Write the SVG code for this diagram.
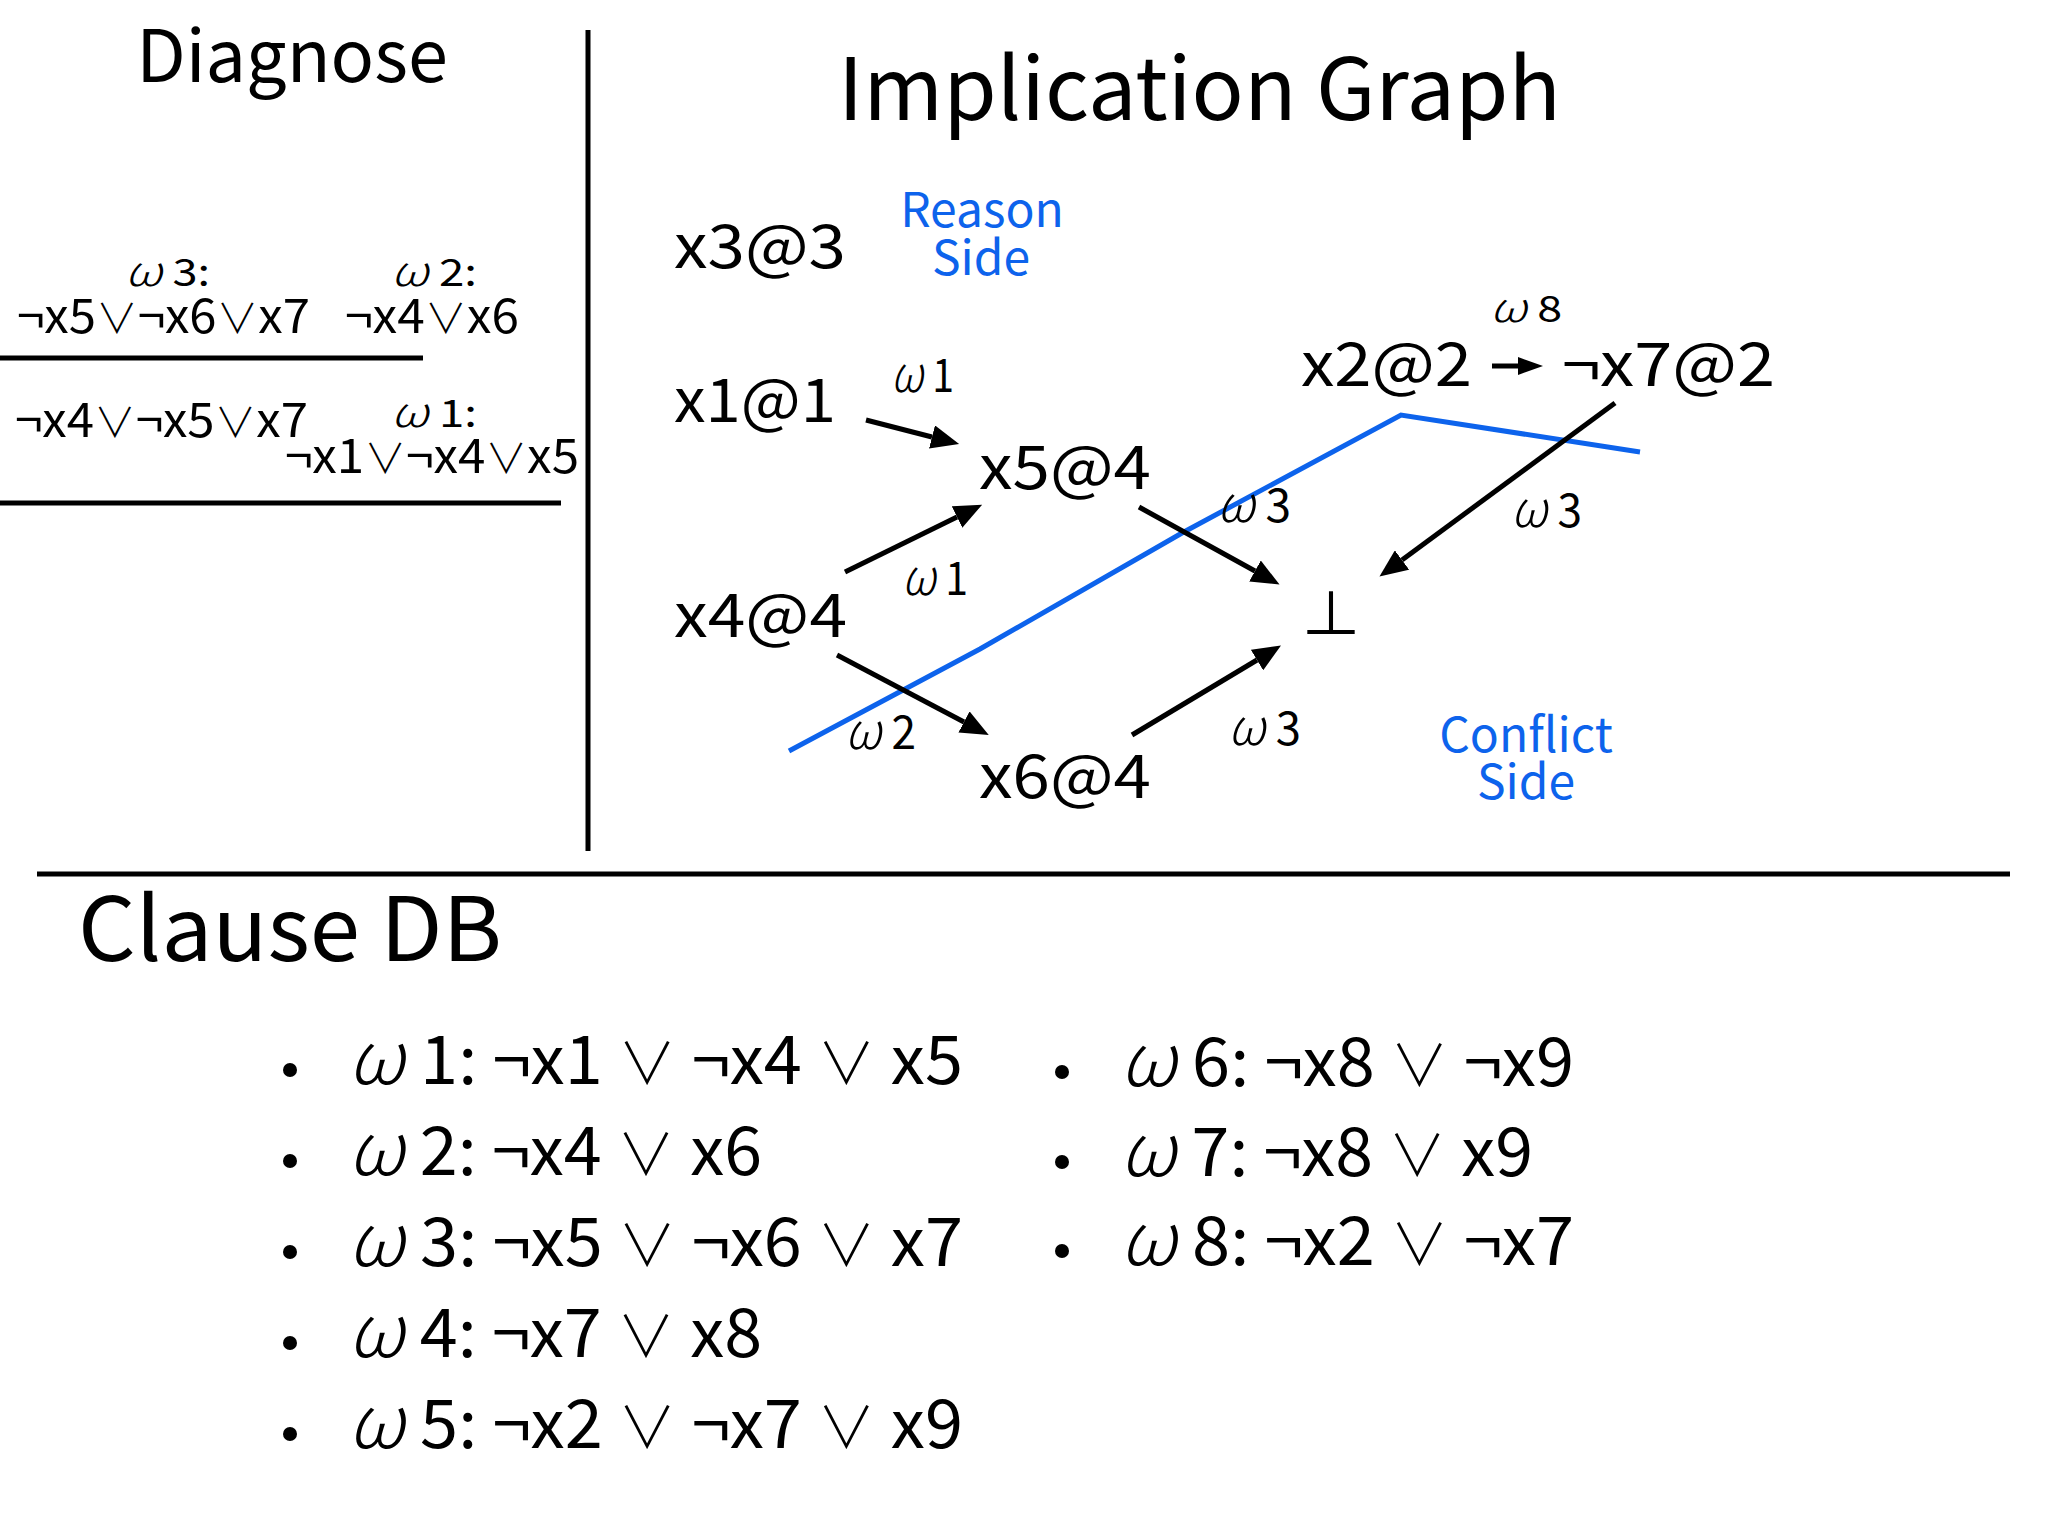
<svg xmlns="http://www.w3.org/2000/svg" width="2048" height="1536" viewBox="0 0 2048 1536">
<defs>
<style>
text{font-family:"Noto Sans CJK JP","Liberation Sans",sans-serif;fill:#000}
.title{font-size:72px}
.big{font-size:88px}
.cl{font-size:48px}
.wl{font-size:38px}
.node{font-size:60px}
.wg{font-size:46px}
.w8{font-size:37px}
.blue{font-size:48px;fill:#0d63ec}
.li{font-size:67px}
.om{font-style:italic;font-weight:300;font-size:1.1em}
.or{font-family:"DejaVu Sans","Noto Sans CJK JP",sans-serif;font-weight:200;font-size:0.85em}
.rule{stroke:#000;stroke-width:5;fill:none}
.edge{stroke:#000;stroke-width:5;fill:none}
</style>
<marker id="ah" viewBox="0 0 28 24" refX="0" refY="12" markerWidth="28" markerHeight="24" markerUnits="userSpaceOnUse" orient="auto">
<path d="M0,0 L28,12 L0,24 z" fill="#000"/>
</marker>
<marker id="ahs" viewBox="0 0 25 18" refX="0" refY="9" markerWidth="25" markerHeight="18" markerUnits="userSpaceOnUse" orient="auto">
<path d="M0,0 L25,9 L0,18 z" fill="#000"/>
</marker>
</defs>
<rect width="2048" height="1536" fill="#fff"/>

<g id="frame">
<line class="rule" x1="588" y1="30" x2="588" y2="851"/>
<line class="rule" x1="37" y1="874" x2="2010" y2="874" stroke-width="6"/>
</g>

<g id="diagnose">
<text class="title" x="292" y="82" text-anchor="middle">Diagnose</text>
<text class="wl" x="125" y="286" textLength="85" lengthAdjust="spacingAndGlyphs"><tspan class="om">ω</tspan> 3:</text>
<text class="wl" x="391" y="286" textLength="86" lengthAdjust="spacingAndGlyphs"><tspan class="om">ω</tspan> 2:</text>
<text class="cl" x="17" y="333" textLength="293" lengthAdjust="spacingAndGlyphs">¬x5<tspan class="or">∨</tspan>¬x6<tspan class="or">∨</tspan>x7</text>
<text class="cl" x="345" y="333" textLength="174" lengthAdjust="spacingAndGlyphs">¬x4<tspan class="or">∨</tspan>x6</text>
<line class="rule" x1="0" y1="358" x2="423" y2="358"/>
<text class="cl" x="15" y="437" textLength="293" lengthAdjust="spacingAndGlyphs">¬x4<tspan class="or">∨</tspan>¬x5<tspan class="or">∨</tspan>x7</text>
<text class="wl" x="391" y="427" textLength="86" lengthAdjust="spacingAndGlyphs"><tspan class="om">ω</tspan> 1:</text>
<text class="cl" x="285" y="473" textLength="294" lengthAdjust="spacingAndGlyphs">¬x1<tspan class="or">∨</tspan>¬x4<tspan class="or">∨</tspan>x5</text>
<line class="rule" x1="0" y1="503" x2="561" y2="503"/>
</g>

<g id="graph-title">
<text x="838" y="120" font-size="86" textLength="723" lengthAdjust="spacingAndGlyphs">Implication Graph</text>
</g>

<g id="reason-side">
<text class="blue" x="982" y="227" text-anchor="middle">Reason</text>
<text class="blue" x="981" y="275" text-anchor="middle">Side</text>
</g>
<g id="conflict-side">
<text class="blue" x="1526" y="752" text-anchor="middle">Conflict</text>
<text class="blue" x="1526" y="799" text-anchor="middle">Side</text>
</g>

<g id="n-x3"><text class="node" x="674" y="268" textLength="172" lengthAdjust="spacingAndGlyphs">x3@3</text></g>
<g id="n-x1"><text class="node" x="674" y="422" textLength="162" lengthAdjust="spacingAndGlyphs">x1@1</text></g>
<g id="n-x5"><text class="node" x="979" y="489" textLength="172" lengthAdjust="spacingAndGlyphs">x5@4</text></g>
<g id="n-x4"><text class="node" x="674" y="637" textLength="173" lengthAdjust="spacingAndGlyphs">x4@4</text></g>
<g id="n-x6"><text class="node" x="979" y="798" textLength="172" lengthAdjust="spacingAndGlyphs">x6@4</text></g>
<g id="n-bot"><text class="node" x="1331" y="636" text-anchor="middle">⊥</text></g>
<g id="n-x2"><text class="node" x="1301" y="386" textLength="171" lengthAdjust="spacingAndGlyphs">x2@2</text></g>
<g id="n-nx7"><text class="node" x="1562" y="386" textLength="213" lengthAdjust="spacingAndGlyphs">¬x7@2</text></g>

<g id="cut">
<polyline points="789,751 980,649 1182,533 1401,415 1640,452" fill="none" stroke="#0d63ec" stroke-width="5"/>
</g>

<g id="connectors">
<line class="edge" x1="866" y1="420" x2="932" y2="437" marker-end="url(#ah)"/>
<line class="edge" x1="845" y1="572" x2="957" y2="517" marker-end="url(#ah)"/>
<line class="edge" x1="1139" y1="507" x2="1255" y2="571" marker-end="url(#ah)"/>
<line class="edge" x1="837" y1="655" x2="964" y2="722" marker-end="url(#ah)"/>
<line class="edge" x1="1132" y1="735" x2="1257" y2="660" marker-end="url(#ah)"/>
<line class="edge" x1="1615" y1="403" x2="1402" y2="560" marker-end="url(#ah)"/>
<line class="edge" x1="1492" y1="366" x2="1518" y2="366" stroke-width="4" marker-end="url(#ahs)"/>
</g>

<g id="edge-labels">
<text class="wg" x="891" y="392" textLength="63" lengthAdjust="spacingAndGlyphs"><tspan class="om">ω</tspan> 1</text>
<text class="wg" x="902" y="595" textLength="66" lengthAdjust="spacingAndGlyphs"><tspan class="om">ω</tspan> 1</text>
<text class="wg" x="1217" y="522" textLength="74" lengthAdjust="spacingAndGlyphs"><tspan class="om">ω</tspan> 3</text>
<text class="wg" x="845" y="749" textLength="71" lengthAdjust="spacingAndGlyphs"><tspan class="om">ω</tspan> 2</text>
<text class="wg" x="1228" y="745" textLength="73" lengthAdjust="spacingAndGlyphs"><tspan class="om">ω</tspan> 3</text>
<text class="wg" x="1511" y="527" textLength="71" lengthAdjust="spacingAndGlyphs"><tspan class="om">ω</tspan> 3</text>
<text class="w8" x="1490" y="322" textLength="72" lengthAdjust="spacingAndGlyphs"><tspan class="om">ω</tspan> 8</text>
</g>

<g id="clause-db">
<text class="big" x="78" y="961" textLength="424" lengthAdjust="spacingAndGlyphs">Clause DB</text>
<g id="list-left">
<circle cx="290" cy="1070" r="7"/>
<text class="li" x="348" y="1084" textLength="615" lengthAdjust="spacingAndGlyphs"><tspan class="om">ω</tspan> 1: ¬x1 <tspan class="or">∨</tspan> ¬x4 <tspan class="or">∨</tspan> x5</text>
<circle cx="290" cy="1161" r="7"/>
<text class="li" x="348" y="1175" textLength="414" lengthAdjust="spacingAndGlyphs"><tspan class="om">ω</tspan> 2: ¬x4 <tspan class="or">∨</tspan> x6</text>
<circle cx="290" cy="1252" r="7"/>
<text class="li" x="348" y="1266" textLength="615" lengthAdjust="spacingAndGlyphs"><tspan class="om">ω</tspan> 3: ¬x5 <tspan class="or">∨</tspan> ¬x6 <tspan class="or">∨</tspan> x7</text>
<circle cx="290" cy="1343" r="7"/>
<text class="li" x="348" y="1357" textLength="414" lengthAdjust="spacingAndGlyphs"><tspan class="om">ω</tspan> 4: ¬x7 <tspan class="or">∨</tspan> x8</text>
<circle cx="290" cy="1434" r="7"/>
<text class="li" x="348" y="1448" textLength="615" lengthAdjust="spacingAndGlyphs"><tspan class="om">ω</tspan> 5: ¬x2 <tspan class="or">∨</tspan> ¬x7 <tspan class="or">∨</tspan> x9</text>
</g>
<g id="list-right">
<circle cx="1062" cy="1072" r="7"/>
<text class="li" x="1120" y="1086" textLength="454" lengthAdjust="spacingAndGlyphs"><tspan class="om">ω</tspan> 6: ¬x8 <tspan class="or">∨</tspan> ¬x9</text>
<circle cx="1062" cy="1162" r="7"/>
<text class="li" x="1120" y="1176" textLength="413" lengthAdjust="spacingAndGlyphs"><tspan class="om">ω</tspan> 7: ¬x8 <tspan class="or">∨</tspan> x9</text>
<circle cx="1062" cy="1251" r="7"/>
<text class="li" x="1120" y="1265" textLength="454" lengthAdjust="spacingAndGlyphs"><tspan class="om">ω</tspan> 8: ¬x2 <tspan class="or">∨</tspan> ¬x7</text>
</g>
</g>
</svg>
